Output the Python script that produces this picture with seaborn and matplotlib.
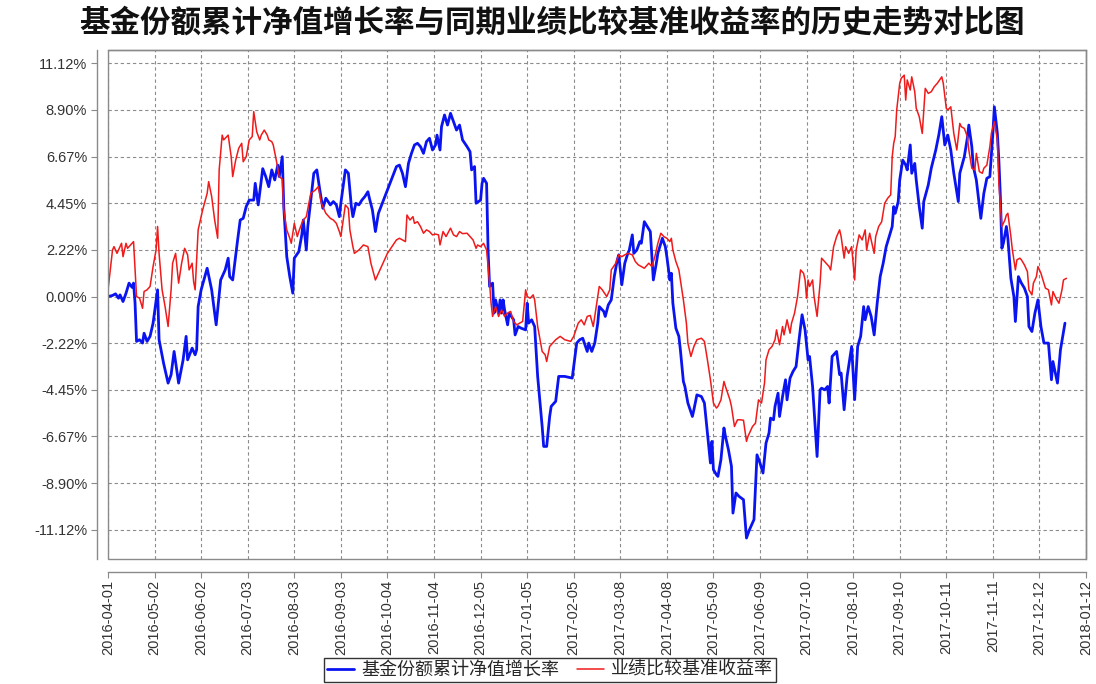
import numpy as np
import pandas as pd
import matplotlib
matplotlib.use("Agg")
import matplotlib.pyplot as plt
from matplotlib.patches import Rectangle
import seaborn as sns

title = "基金份额累计净值增长率与同期业绩比较基准收益率的历史走势对比图"
fund_label = "基金份额累计净值增长率"
bench_label = "业绩比较基准收益率"

x_tick_labels = ["2016-04-01", "2016-05-02", "2016-06-02", "2016-07-03", "2016-08-03",
                 "2016-09-03", "2016-10-04", "2016-11-04", "2016-12-05", "2017-01-05",
                 "2017-02-05", "2017-03-08", "2017-04-08", "2017-05-09", "2017-06-09",
                 "2017-07-10", "2017-08-10", "2017-09-10", "2017-10-11", "2017-11-11",
                 "2017-12-12", "2018-01-12"]
y_tick_labels = ["-11.12%", "-8.90%", "-6.67%", "-4.45%", "-2.22%", "0.00%",
                 "2.22%", "4.45%", "6.67%", "8.90%", "11.12%"]

fund_dates = [
    "2016-04-01", "2016-04-04", "2016-04-06", "2016-04-08", "2016-04-09", "2016-04-11", "2016-04-13",
    "2016-04-15", "2016-04-17", "2016-04-18", "2016-04-19", "2016-04-20", "2016-04-22", "2016-04-24",
    "2016-04-25", "2016-04-27", "2016-04-29", "2016-05-01", "2016-05-04", "2016-05-05", "2016-05-08",
    "2016-05-11", "2016-05-13", "2016-05-15", "2016-05-18", "2016-05-21", "2016-05-23", "2016-05-24",
    "2016-05-27", "2016-05-29", "2016-05-30", "2016-05-31", "2016-06-02", "2016-06-06", "2016-06-09",
    "2016-06-12", "2016-06-15", "2016-06-18", "2016-06-20", "2016-06-21", "2016-06-23", "2016-06-26",
    "2016-06-28", "2016-06-30", "2016-07-02", "2016-07-04", "2016-07-07", "2016-07-08", "2016-07-10",
    "2016-07-13", "2016-07-15", "2016-07-17", "2016-07-19", "2016-07-21", "2016-07-23", "2016-07-24",
    "2016-07-26", "2016-07-27", "2016-07-29", "2016-07-31", "2016-08-02", "2016-08-03", "2016-08-06",
    "2016-08-08", "2016-08-09", "2016-08-11", "2016-08-12", "2016-08-16", "2016-08-18", "2016-08-20",
    "2016-08-22", "2016-08-24", "2016-08-27", "2016-08-29", "2016-08-31", "2016-09-02", "2016-09-03",
    "2016-09-06", "2016-09-08", "2016-09-10", "2016-09-11", "2016-09-13", "2016-09-15", "2016-09-17",
    "2016-09-19", "2016-09-21", "2016-09-22", "2016-09-24", "2016-09-26", "2016-09-28", "2016-10-04",
    "2016-10-10", "2016-10-12", "2016-10-14", "2016-10-16", "2016-10-18", "2016-10-20", "2016-10-22",
    "2016-10-24", "2016-10-26", "2016-10-28", "2016-10-30", "2016-11-01", "2016-11-03", "2016-11-05",
    "2016-11-06", "2016-11-08", "2016-11-09", "2016-11-11", "2016-11-12", "2016-11-13", "2016-11-15",
    "2016-11-17", "2016-11-19", "2016-11-21", "2016-11-23", "2016-11-26", "2016-11-28", "2016-11-29",
    "2016-12-01", "2016-12-02", "2016-12-05", "2016-12-06", "2016-12-07", "2016-12-09", "2016-12-10",
    "2016-12-11", "2016-12-13", "2016-12-14", "2016-12-15", "2016-12-17", "2016-12-18", "2016-12-19",
    "2016-12-20", "2016-12-21", "2016-12-23", "2016-12-24", "2016-12-27", "2016-12-28", "2016-12-30",
    "2017-01-01", "2017-01-04", "2017-01-05", "2017-01-06", "2017-01-08", "2017-01-10", "2017-01-12",
    "2017-01-15", "2017-01-16", "2017-01-18", "2017-01-20", "2017-01-21", "2017-01-24", "2017-01-26",
    "2017-01-30", "2017-02-04", "2017-02-07", "2017-02-09", "2017-02-11", "2017-02-14", "2017-02-15",
    "2017-02-17", "2017-02-19", "2017-02-21", "2017-02-22", "2017-02-25", "2017-02-26", "2017-02-28",
    "2017-03-02", "2017-03-04", "2017-03-06", "2017-03-07", "2017-03-09", "2017-03-11", "2017-03-13",
    "2017-03-14", "2017-03-16", "2017-03-17", "2017-03-19", "2017-03-21", "2017-03-22", "2017-03-24",
    "2017-03-26", "2017-03-28", "2017-03-30", "2017-04-01", "2017-04-02", "2017-04-05", "2017-04-07",
    "2017-04-08", "2017-04-10", "2017-04-11", "2017-04-12", "2017-04-14", "2017-04-16", "2017-04-17",
    "2017-04-19", "2017-04-20", "2017-04-22", "2017-04-25", "2017-04-26", "2017-04-28", "2017-05-01",
    "2017-05-03", "2017-05-05", "2017-05-07", "2017-05-08", "2017-05-09", "2017-05-11", "2017-05-12",
    "2017-05-14", "2017-05-16", "2017-05-17", "2017-05-19", "2017-05-21", "2017-05-22", "2017-05-24",
    "2017-05-26", "2017-05-29", "2017-05-31", "2017-06-02", "2017-06-05", "2017-06-07", "2017-06-09",
    "2017-06-11", "2017-06-13", "2017-06-15", "2017-06-16", "2017-06-18", "2017-06-19", "2017-06-21",
    "2017-06-22", "2017-06-24", "2017-06-26", "2017-06-27", "2017-06-29", "2017-07-01", "2017-07-03",
    "2017-07-05", "2017-07-07", "2017-07-09", "2017-07-11", "2017-07-12", "2017-07-14", "2017-07-16",
    "2017-07-17", "2017-07-19", "2017-07-20", "2017-07-22", "2017-07-24", "2017-07-25", "2017-07-27",
    "2017-07-30", "2017-08-01", "2017-08-02", "2017-08-04", "2017-08-06", "2017-08-09", "2017-08-11",
    "2017-08-13", "2017-08-15", "2017-08-17", "2017-08-18", "2017-08-20", "2017-08-22", "2017-08-24",
    "2017-08-26", "2017-08-28", "2017-08-30", "2017-09-01", "2017-09-03", "2017-09-05", "2017-09-06",
    "2017-09-07", "2017-09-09", "2017-09-10", "2017-09-12", "2017-09-14", "2017-09-15", "2017-09-17",
    "2017-09-18", "2017-09-20", "2017-09-21", "2017-09-23", "2017-09-25", "2017-09-26", "2017-09-29",
    "2017-10-01", "2017-10-04", "2017-10-06", "2017-10-08", "2017-10-10", "2017-10-12", "2017-10-14",
    "2017-10-16", "2017-10-19", "2017-10-20", "2017-10-23", "2017-10-25", "2017-10-26", "2017-10-28",
    "2017-10-29", "2017-10-31", "2017-11-03", "2017-11-05", "2017-11-07", "2017-11-09", "2017-11-11",
    "2017-11-12", "2017-11-14", "2017-11-15", "2017-11-16", "2017-11-17", "2017-11-18", "2017-11-20",
    "2017-11-21", "2017-11-23", "2017-11-25", "2017-11-26", "2017-11-28", "2017-11-30", "2017-12-02",
    "2017-12-04", "2017-12-05", "2017-12-07", "2017-12-09", "2017-12-11", "2017-12-13", "2017-12-15",
    "2017-12-18", "2017-12-20", "2017-12-21", "2017-12-24", "2017-12-26", "2017-12-29"]
fund_values = [
    0.00, 0.05, 0.13, -0.08, 0.08, -0.24, 0.16,
    0.64, 0.44, 0.64, -0.30, -2.14, -2.06, -2.22,
    -1.75, -2.14, -1.90, -1.27, 0.32, -2.06, -3.18,
    -4.13, -3.73, -2.62, -4.13, -3.02, -1.90, -3.02,
    -2.46, -2.78, -2.54, -0.48, 0.32, 1.35, 0.32,
    -1.35, 0.79, 1.27, 1.83, 0.95, 0.79, 2.54,
    3.65, 3.73, 4.29, 4.60, 4.60, 5.40, 4.37,
    6.10, 5.72, 5.24, 6.04, 5.56, 6.27, 5.72,
    6.67, 4.29, 1.90, 0.95, 0.16, 1.83, 2.14,
    2.94, 3.65, 2.22, 3.34, 5.88, 6.04, 5.08,
    4.21, 4.69, 4.37, 4.53, 4.37, 3.81, 4.45,
    6.04, 5.88, 4.29, 3.81, 4.45, 4.37, 4.60,
    4.77, 5.00, 4.69, 4.13, 3.10, 3.97, 5.08,
    6.20, 6.27, 5.88, 5.24, 6.35, 6.83, 7.23,
    7.31, 7.15, 6.83, 7.39, 7.55, 6.99, 7.23,
    7.70, 6.99, 8.10, 8.66, 8.42, 8.18, 8.74,
    8.34, 7.94, 8.18, 7.47, 7.15, 6.91, 6.04,
    6.20, 4.45, 4.60, 5.40, 5.64, 5.40, 2.22,
    0.48, 0.64, -0.79, -0.16, -0.79, -0.16, -0.79,
    -0.16, -0.64, -1.35, -0.79, -1.11, -1.83, -1.43,
    -1.51, -1.59, -0.32, -1.27, -1.11, -1.43, -3.81,
    -6.20, -7.15, -7.15, -5.72, -5.24, -5.00, -3.81,
    -3.81, -3.89, -2.22, -2.06, -1.99, -2.62, -2.22,
    -2.62, -2.22, -1.27, -0.48, -0.71, -0.95, -0.40,
    -0.16, 0.95, 1.75, 1.99, 0.56, 1.59, 2.06,
    2.22, 2.94, 2.06, 2.22, 2.62, 2.54, 3.57,
    3.34, 3.10, 0.79, 1.59, 2.06, 2.78, 2.38,
    1.90, 0.79, 1.11, -0.32, -1.51, -1.90, -2.54,
    -4.05, -4.29, -5.08, -5.72, -5.40, -4.69, -4.77,
    -5.08, -6.51, -7.94, -6.91, -8.26, -8.50, -8.58,
    -7.78, -6.27, -6.67, -7.31, -8.10, -10.33, -9.37,
    -9.53, -9.69, -11.52, -11.12, -10.64, -7.55, -7.94,
    -8.42, -6.99, -6.51, -5.80, -5.88, -5.24, -4.61,
    -5.72, -4.77, -3.97, -4.93, -3.89, -3.57, -3.34,
    -2.06, -0.87, -1.59, -3.02, -2.86, -4.29, -6.51,
    -7.63, -4.45, -4.37, -4.45, -4.29, -5.08, -2.86,
    -2.62, -3.73, -3.65, -5.40, -3.81, -2.38, -4.92,
    -2.38, -1.90, -0.48, -1.11, -0.48, -0.95, -1.83,
    -0.32, 0.95, 1.59, 2.38, 2.86, 3.34, 4.29,
    3.97, 4.53, 5.56, 6.51, 6.27, 6.04, 7.23,
    5.88, 6.35, 5.56, 4.29, 3.26, 4.53, 5.32,
    6.12, 6.99, 7.70, 8.58, 7.23, 7.70, 6.99,
    5.88, 4.53, 5.88, 6.67, 7.55, 8.18, 7.15,
    6.20, 5.56, 3.73, 4.92, 5.64, 5.72, 7.78,
    9.05, 7.78, 6.51, 4.77, 2.30, 2.54, 3.34,
    2.78, 0.87, 0.00, -1.19, 0.95, 0.64, 0.40,
    0.00, -1.43, -1.67, -0.79, -0.16, -1.43, -2.22,
    -2.22, -3.97, -3.10, -4.13, -2.54, -1.27]

bench_dates = [
    "2016-04-01", "2016-04-02", "2016-04-04", "2016-04-05", "2016-04-07", "2016-04-08", "2016-04-10",
    "2016-04-11", "2016-04-13", "2016-04-14", "2016-04-16", "2016-04-18", "2016-04-19", "2016-04-20",
    "2016-04-22", "2016-04-23", "2016-04-24", "2016-04-25", "2016-04-27", "2016-04-29", "2016-05-01",
    "2016-05-03", "2016-05-04", "2016-05-05", "2016-05-07", "2016-05-09", "2016-05-11", "2016-05-13",
    "2016-05-14", "2016-05-16", "2016-05-18", "2016-05-20", "2016-05-22", "2016-05-24", "2016-05-25",
    "2016-05-27", "2016-05-28", "2016-05-29", "2016-05-31", "2016-06-02", "2016-06-03", "2016-06-06",
    "2016-06-07", "2016-06-09", "2016-06-11", "2016-06-13", "2016-06-14", "2016-06-16", "2016-06-17",
    "2016-06-18", "2016-06-20", "2016-06-22", "2016-06-23", "2016-06-25", "2016-06-27", "2016-06-29",
    "2016-06-30", "2016-07-02", "2016-07-04", "2016-07-06", "2016-07-07", "2016-07-09", "2016-07-11",
    "2016-07-12", "2016-07-14", "2016-07-16", "2016-07-17", "2016-07-19", "2016-07-20", "2016-07-22",
    "2016-07-24", "2016-07-26", "2016-07-27", "2016-07-29", "2016-07-31", "2016-08-01", "2016-08-03",
    "2016-08-05", "2016-08-06", "2016-08-08", "2016-08-09", "2016-08-11", "2016-08-14", "2016-08-17",
    "2016-08-19", "2016-08-21", "2016-08-24", "2016-08-27", "2016-08-29", "2016-08-31", "2016-09-02",
    "2016-09-03", "2016-09-06", "2016-09-08", "2016-09-09", "2016-09-11", "2016-09-12", "2016-09-15",
    "2016-09-18", "2016-09-21", "2016-09-23", "2016-09-26", "2016-09-29", "2016-10-04", "2016-10-10",
    "2016-10-12", "2016-10-16", "2016-10-17", "2016-10-19", "2016-10-21", "2016-10-22", "2016-10-24",
    "2016-10-26", "2016-10-28", "2016-10-30", "2016-11-01", "2016-11-03", "2016-11-05", "2016-11-07",
    "2016-11-08", "2016-11-10", "2016-11-12", "2016-11-15", "2016-11-17", "2016-11-19", "2016-11-21",
    "2016-11-23", "2016-11-26", "2016-11-28", "2016-11-30", "2016-12-02", "2016-12-03", "2016-12-05",
    "2016-12-07", "2016-12-09", "2016-12-11", "2016-12-12", "2016-12-13", "2016-12-15", "2016-12-17",
    "2016-12-19", "2016-12-21", "2016-12-23", "2016-12-25", "2016-12-27", "2016-12-29", "2016-12-31",
    "2017-01-02", "2017-01-04", "2017-01-05", "2017-01-07", "2017-01-09", "2017-01-10", "2017-01-12",
    "2017-01-15", "2017-01-17", "2017-01-18", "2017-01-20", "2017-01-22", "2017-01-24", "2017-01-27",
    "2017-01-30", "2017-02-03", "2017-02-05", "2017-02-08", "2017-02-10", "2017-02-12", "2017-02-14",
    "2017-02-16", "2017-02-18", "2017-02-20", "2017-02-22", "2017-02-24", "2017-02-27", "2017-03-01",
    "2017-03-02", "2017-03-05", "2017-03-07", "2017-03-09", "2017-03-11", "2017-03-13", "2017-03-16",
    "2017-03-18", "2017-03-20", "2017-03-22", "2017-03-24", "2017-03-27", "2017-03-29", "2017-03-31",
    "2017-04-02", "2017-04-04", "2017-04-06", "2017-04-08", "2017-04-10", "2017-04-11", "2017-04-12",
    "2017-04-14", "2017-04-16", "2017-04-19", "2017-04-21", "2017-04-22", "2017-04-24", "2017-04-26",
    "2017-04-28", "2017-05-01", "2017-05-03", "2017-05-05", "2017-05-07", "2017-05-09", "2017-05-11",
    "2017-05-12", "2017-05-14", "2017-05-16", "2017-05-17", "2017-05-20", "2017-05-21", "2017-05-23",
    "2017-05-25", "2017-05-27", "2017-05-29", "2017-05-31", "2017-06-01", "2017-06-04", "2017-06-06",
    "2017-06-08", "2017-06-10", "2017-06-12", "2017-06-13", "2017-06-15", "2017-06-17", "2017-06-19",
    "2017-06-20", "2017-06-22", "2017-06-24", "2017-06-25", "2017-06-27", "2017-06-29", "2017-06-30",
    "2017-07-02", "2017-07-04", "2017-07-06", "2017-07-08", "2017-07-09", "2017-07-10", "2017-07-11",
    "2017-07-12", "2017-07-14", "2017-07-15", "2017-07-17", "2017-07-19", "2017-07-20", "2017-07-22",
    "2017-07-25", "2017-07-26", "2017-07-28", "2017-07-30", "2017-08-01", "2017-08-02", "2017-08-04",
    "2017-08-05", "2017-08-07", "2017-08-09", "2017-08-11", "2017-08-12", "2017-08-14", "2017-08-16",
    "2017-08-18", "2017-08-19", "2017-08-21", "2017-08-22", "2017-08-24", "2017-08-25", "2017-08-27",
    "2017-08-29", "2017-08-31", "2017-09-02", "2017-09-04", "2017-09-05", "2017-09-06", "2017-09-07",
    "2017-09-08", "2017-09-10", "2017-09-11", "2017-09-13", "2017-09-14", "2017-09-15", "2017-09-17",
    "2017-09-18", "2017-09-20", "2017-09-21", "2017-09-23", "2017-09-25", "2017-09-27", "2017-09-29",
    "2017-10-01", "2017-10-03", "2017-10-05", "2017-10-08", "2017-10-09", "2017-10-11", "2017-10-12",
    "2017-10-14", "2017-10-15", "2017-10-16", "2017-10-18", "2017-10-20", "2017-10-21", "2017-10-23",
    "2017-10-25", "2017-10-26", "2017-10-28", "2017-10-30", "2017-10-31", "2017-11-02", "2017-11-04",
    "2017-11-05", "2017-11-07", "2017-11-09", "2017-11-10", "2017-11-12", "2017-11-14", "2017-11-15",
    "2017-11-17", "2017-11-19", "2017-11-20", "2017-11-21", "2017-11-23", "2017-11-24", "2017-11-26",
    "2017-11-27", "2017-11-29", "2017-11-30", "2017-12-02", "2017-12-04", "2017-12-05", "2017-12-07",
    "2017-12-08", "2017-12-10", "2017-12-11", "2017-12-13", "2017-12-15", "2017-12-16", "2017-12-18",
    "2017-12-20", "2017-12-21", "2017-12-23", "2017-12-25", "2017-12-27", "2017-12-28", "2017-12-30"]
bench_values = [
    0.30, 0.95, 2.22, 2.38, 2.06, 2.22, 2.54,
    1.90, 2.54, 2.30, 2.46, 2.62, 1.27, 0.00,
    -0.08, -0.32, -0.56, 0.24, 0.32, 0.48, 1.43,
    2.22, 3.34, 2.06, 0.32, -0.48, -1.43, 0.32,
    1.59, 2.06, 0.64, 1.59, 2.30, 1.99, 1.27,
    1.59, 0.71, 0.32, 3.18, 3.81, 4.13, 4.92,
    5.48, 4.77, 3.65, 2.78, 6.04, 7.70, 7.47,
    7.55, 7.70, 6.67, 5.72, 6.51, 7.07, 7.31,
    6.43, 6.67, 7.47, 7.63, 8.82, 7.86, 7.47,
    7.70, 7.94, 7.70, 7.47, 7.39, 7.23, 6.51,
    5.72, 5.60, 4.13, 3.18, 2.78, 2.54, 3.49,
    2.86, 3.10, 3.49, 3.65, 3.81, 4.92, 5.08,
    5.24, 4.45, 3.97, 3.73, 3.65, 3.49, 3.10,
    2.86, 4.37, 4.20, 3.18, 2.38, 2.06, 2.22,
    2.46, 2.38, 1.59, 0.79, 1.27, 2.06, 2.70,
    2.78, 2.62, 3.89, 3.65, 3.81, 3.49, 3.57,
    3.34, 3.02, 3.18, 3.10, 2.94, 2.98, 2.94,
    2.46, 3.10, 2.86, 3.26, 2.94, 2.86, 3.10,
    3.00, 3.02, 2.86, 2.70, 2.30, 2.46, 2.38,
    2.54, 2.22, 0.64, -0.32, -0.95, -0.48, -0.95,
    -0.64, -0.95, -0.79, -0.71, -1.19, -1.35, -1.27,
    -1.19, 0.32, 0.00, -0.08, 0.08, -0.16, -1.43,
    -2.62, -2.78, -3.10, -2.38, -2.22, -2.06, -1.90,
    -2.06, -2.14, -1.90, -1.27, -1.11, -1.35, -0.95,
    -0.90, -1.43, -0.48, 0.48, 0.32, 0.00, 0.32,
    1.27, 1.59, 1.99, 1.90, 1.99, 2.06, 1.99,
    1.67, 1.51, 1.43, 1.35, 1.59, 1.43, 1.90,
    2.54, 3.02, 2.86, 2.78, 2.62, 2.78, 2.22,
    1.67, 1.27, -0.16, -1.27, -2.22, -2.86, -2.38,
    -2.06, -1.99, -2.14, -3.02, -3.97, -5.08, -5.32,
    -5.24, -4.93, -4.05, -4.29, -4.93, -5.24, -6.20,
    -5.88, -5.88, -5.90, -6.91, -6.67, -6.20, -6.04,
    -4.93, -5.08, -4.13, -3.02, -2.54, -2.38, -2.06,
    -1.59, -2.30, -1.43, -1.83, -1.11, -1.75, -1.27,
    -0.79, 0.00, 1.27, 1.11, 0.79, -0.08, 0.79,
    0.48, 0.79, 0.00, -0.95, 0.64, 1.83, 1.67,
    1.43, 1.27, 2.38, 2.86, 3.18, 2.86, 1.83,
    2.38, 2.06, 2.38, 0.79, 2.22, 2.94, 2.70,
    3.18, 2.22, 3.02, 2.70, 2.06, 2.86, 3.34,
    3.57, 4.45, 4.69, 4.85, 6.67, 7.31, 7.63,
    8.90, 10.17, 10.41, 10.56, 9.37, 10.33, 9.85,
    10.48, 9.77, 8.98, 8.58, 7.78, 9.93, 9.69,
    9.77, 10.01, 10.17, 10.48, 10.17, 8.98, 8.90,
    9.05, 8.42, 7.78, 6.99, 8.26, 8.10, 8.02,
    7.63, 6.99, 6.12, 6.04, 6.83, 5.96, 5.88,
    6.12, 6.27, 7.15, 7.78, 8.34, 7.47, 5.40,
    3.34, 3.65, 3.89, 3.97, 2.86, 2.22, 1.27,
    1.75, 1.83, 1.75, 1.51, 1.19, 0.32, 0.08,
    0.64, 0.95, 1.43, 1.11, 0.64, 0.40, 0.32,
    -0.40, 0.24, -0.08, -0.32, 0.32, 0.79, 0.87]

fund = pd.DataFrame({"date": pd.to_datetime(fund_dates), "value": fund_values})
bench = pd.DataFrame({"date": pd.to_datetime(bench_dates), "value": bench_values})

sns.set_theme(style="white")
plt.rcParams["font.family"] = ["Liberation Sans", "Noto Sans CJK SC", "DejaVu Sans"]
cjk = ["Noto Sans CJK SC", "DejaVu Sans"]

W, H = 1096, 684
fig = plt.figure(figsize=(W / 100, H / 100), dpi=100)
fig.patch.set_facecolor("white")
ax = fig.add_axes([108 / W, 1 - 559 / H, (1086 - 108) / W, (559 - 50) / H])
ax.set_facecolor("white")

sns.lineplot(data=fund, x="date", y="value", ax=ax, color="#0a14f0", linewidth=2.0,
             label=fund_label, estimator=None, sort=False)
sns.lineplot(data=bench, x="date", y="value", ax=ax, color="#f01a1a", linewidth=1.1,
             label=bench_label, estimator=None, sort=False)

xt = pd.to_datetime(x_tick_labels)
ax.set_xticks(xt)
ax.set_xticklabels(x_tick_labels)
ax.set_xlim(xt[0], xt[-1])
yt = [float(s.rstrip("%")) for s in y_tick_labels]
ax.set_yticks(yt)
ax.set_yticklabels(y_tick_labels)
ax.set_ylim(-12.52, 11.76)
ax.set_xlabel("")
ax.set_ylabel("")

ax.set_axisbelow(True)
ax.grid(True, color="#8c8c8c", linestyle=(0, (3, 2.5)), linewidth=0.8)

for s in ["top", "right", "left", "bottom"]:
    ax.spines[s].set_color("#8a8a8a")
    ax.spines[s].set_linewidth(1.0)
ax.spines["left"].set_position(("outward", 8))
ax.spines["bottom"].set_position(("outward", 9))
ax.add_patch(Rectangle((0, 0), 1, 1, transform=ax.transAxes, fill=False,
                       edgecolor="#8a8a8a", linewidth=1.0, clip_on=False, zorder=5))

ax.tick_params(axis="both", which="major", direction="out", length=4, width=0.8,
               color="#8a8a8a", labelsize=10.5, labelcolor="#333333",
               left=True, bottom=True, pad=3)
ax.tick_params(axis="x", labelrotation=90, pad=2)
for lbl in ax.get_xticklabels():
    lbl.set_rotation(90)
    lbl.set_ha("center")
    lbl.set_va("top")

fig.text(0.504, 1 - 22 / H, title, ha="center", va="center", fontsize=22,
         fontweight="bold", family=cjk, color="#111111")

leg = ax.legend(loc="center", bbox_to_anchor=(550 / W, 1 - 670 / H),
                bbox_transform=fig.transFigure, ncol=2, frameon=True, fancybox=False,
                edgecolor="black", prop={"family": cjk, "size": 13},
                handlelength=1.5, columnspacing=1.0, handletextpad=0.4,
                borderpad=0.15, borderaxespad=0)
leg.get_frame().set_linewidth(1.0)

fig.savefig("out.png", dpi=100, facecolor="white")
